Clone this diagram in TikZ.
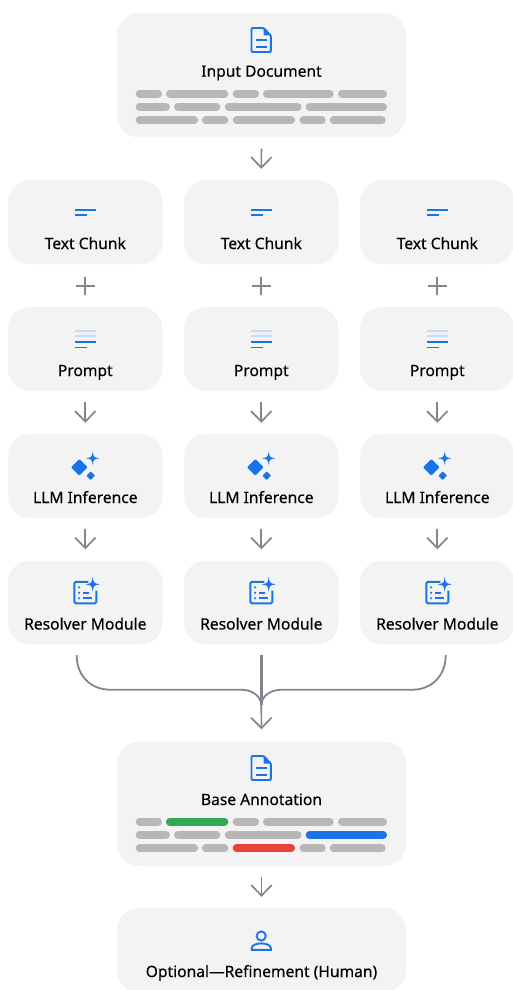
\documentclass[tikz,border=0pt]{standalone}
\usepackage{fontspec}
\setmainfont[FakeBold=0.18]{Noto Sans}
\usetikzlibrary{arrows.meta,calc}
\definecolor{boxc}{HTML}{F3F3F3}
\definecolor{barc}{HTML}{B7B7B7}
\definecolor{arrc}{HTML}{80868B}
\definecolor{gblue}{HTML}{1A73E8}
\definecolor{gpale}{HTML}{C6DAFA}
\definecolor{ggreen}{HTML}{34A853}
\definecolor{gred}{HTML}{EA4335}
\tikzset{
  x=1pt,y=-1pt,
  box/.style={fill=boxc,draw=none,rounded corners=22pt,inner sep=0pt,minimum width=154.5pt,minimum height=84pt},
  widebox/.style={box,minimum width=289pt,minimum height=124.5pt},
  lbl/.style={anchor=base,inner sep=0pt,text=black,font=\fontsize{15.6}{18}\selectfont},
  arr/.style={draw=arrc,line width=1.7pt,-{Straight Barb[length=10.5pt,width=20.5pt,line width=1.7pt]},shorten <=11pt,shorten >=11pt},
  merge/.style={draw=arrc,line width=1.8pt},
  plusline/.style={draw=arrc,line width=1.7pt},
  icon/.style={draw=gblue,line width=1.9pt},
  iconfill/.style={fill=gblue,draw=none},
  barline/.style={line width=8pt,line cap=round,draw=#1},
  barline/.default=barc
}
\newcommand{\docicon}[2]{%
  \begin{scope}[shift={(#1,#2)}]
    \draw[icon,rounded corners=1pt] (13,1) -- (1,1) -- (1,25) -- (20.3,25) -- (20.3,8.5) -- cycle;
    \fill[iconfill] (13,0.2) -- (21.2,8.5) -- (13,8.5) -- cycle;
    \draw[icon,line width=1.8pt] (5.5,12.8) -- (16,12.8) (5.5,19.8) -- (16,19.8);
  \end{scope}}
\newcommand{\starshape}[3]{%
  \fill[iconfill] (#1,#2-#3) .. controls (#1+.14*#3,#2-.14*#3) .. (#1+#3,#2)
    .. controls (#1+.14*#3,#2+.14*#3) .. (#1,#2+#3)
    .. controls (#1-.14*#3,#2+.14*#3) .. (#1-#3,#2)
    .. controls (#1-.14*#3,#2-.14*#3) .. (#1,#2-#3) -- cycle;}
\newcommand{\barrows}[1]{%
  \begin{scope}[shift={(0,#1)}]
    \foreach \aa/\bb in {135.7/162,166/228.3,232.7/259,263/333.7,338/387}
      \draw[barline] (\aa+4,93.5) -- (\bb-4,93.5);
    \foreach \aa/\bb in {135.7/170,174/220.3,224.7/301.7,305.7/387}
      \draw[barline] (\aa+4,107) -- (\bb-4,107);
    \foreach \aa/\bb in {135.7/198,202/228.3,232.7/295,299.3/325.7,329.7/385.7}
      \draw[barline] (\aa+4,120.3) -- (\bb-4,120.3);
  \end{scope}}
\begin{document}
\begin{tikzpicture}
\useasboundingbox (0,0) rectangle (513,990);

% wide boxes
\node[widebox] (input) at (261.5,75.2) {};
\node[lbl] (inputt) at (261.5,76.7) {Input Document};
\docicon{250.5}{27}
\barrows{0}

\node[widebox] (base) at (261.5,803.8) {};
\node[lbl] (baset) at (261.5,805) {Base Annotation};
\docicon{250.5}{755}
\barrows{728}
\draw[barline=ggreen] (170,821.5) -- (224.3,821.5);
\draw[barline=gblue] (309.7,835) -- (383,835);
\draw[barline=gred] (236.7,848.3) -- (291,848.3);

\node[widebox,minimum height=84pt] (human) at (261.5,950) {};
\node[lbl] (humant) at (261.5,977) {Optional—Refinement (Human)};
\draw[icon] (261.2,936) circle (4.6pt);
\draw[icon] (251.7,949.8) -- (251.7,948) .. controls (251.7,945) and (257,943.4) .. (261.2,943.4) .. controls (265.5,943.4) and (270.8,945) .. (270.8,948) -- (270.8,949.8) -- cycle;

% columns
\foreach \i/\cx in {1/85.3,2/261.3,3/437.3}{
  \node[box] (chunk\i) at (\cx,222) {};
  \node[lbl] (chunkt\i) at (\cx,249) {Text Chunk};
  \node[box] (prompt\i) at (\cx,349) {};
  \node[lbl] (promptt\i) at (\cx,376) {Prompt};
  \node[box] (llm\i) at (\cx,476) {};
  \node[lbl] (llmt\i) at (\cx,503) {LLM Inference};
  \node[box] (res\i) at (\cx,602.5) {};
  \node[lbl] (rest\i) at (\cx,629.5) {Resolver Module};

  \draw[arr] (prompt\i) -- (llm\i);
  \draw[arr] (llm\i) -- (res\i);
  \draw[plusline] ($(chunk\i.south)+(0,12.7)$) -- ($(prompt\i.north)+(0,-12)$);
  \draw[plusline] ($(chunk\i.south)+(-9.5,21.7)$) -- ($(chunk\i.south)+(9.5,21.7)$);

  \begin{scope}[shift={(\cx,0)}]
    % chunk icon
    \draw[icon] (-10.7,210) -- (10.7,210);
    \draw[icon] (-10.7,214.6) -- (2,214.6);
    % prompt icon
    \draw[icon,draw=gpale] (-10.7,330.8) -- (10.7,330.8);
    \draw[icon,draw=gpale] (-10.7,336.2) -- (10.7,336.2);
    \draw[icon] (-10.7,341.8) -- (10.7,341.8);
    \draw[icon] (-10.7,347.5) -- (2,347.5);
    % llm icon
    \fill[iconfill,rounded corners=1pt] (-6,459) -- (2.3,467.3) -- (-6,475.6) -- (-14.3,467.3) -- cycle;
    \fill[iconfill,rounded corners=.6pt] (5.4,471.4) -- (9.7,475.7) -- (5.4,480) -- (1.1,475.7) -- cycle;
    \starshape{7.4}{458.3}{6.8}
    % resolver icon
    \draw[icon,rounded corners=1.5pt] (3,581.8) -- (-10.9,581.8) -- (-10.9,603.4) -- (11.1,603.4) -- (11.1,590.5);
    \starshape{7.4}{584.3}{7.2}
    \foreach \yy in {587.3,592.7,598.3}
      \fill[iconfill] (-6.2,\yy) circle (1.2pt);
    \draw[icon] (-2,592.7) -- (4,592.7);
    \draw[icon] (-2,598.3) -- (6.7,598.3);
  \end{scope}
}

% main arrows
\draw[arr] (input) -- (chunk2);
\draw[arr] (base) -- (human);

% merge
\coordinate (m1) at ($(res1.south)+(-8.6,10.5)$);
\coordinate (m2) at ($(res2.south)+(0,10.5)$);
\coordinate (m3) at ($(res3.south)+(8.4,10.5)$);
\coordinate (mj) at (261.3,705);
\draw[merge] (m1) .. controls (76.7,677) and (92,689.7) .. (110,689.7) -- (241,689.7) .. controls (253,689.7) and (261.3,697) .. (mj);
\draw[merge] (m3) .. controls (445.7,677) and (430.5,689.7) .. (412.5,689.7) -- (281.5,689.7) .. controls (269.5,689.7) and (261.3,697) .. (mj);
\draw[merge,line width=2.8pt] (m2) -- (mj);
\draw[arr,shorten <=0pt,shorten >=12pt] (mj) -- (base.north);
\end{tikzpicture}
\end{document}
